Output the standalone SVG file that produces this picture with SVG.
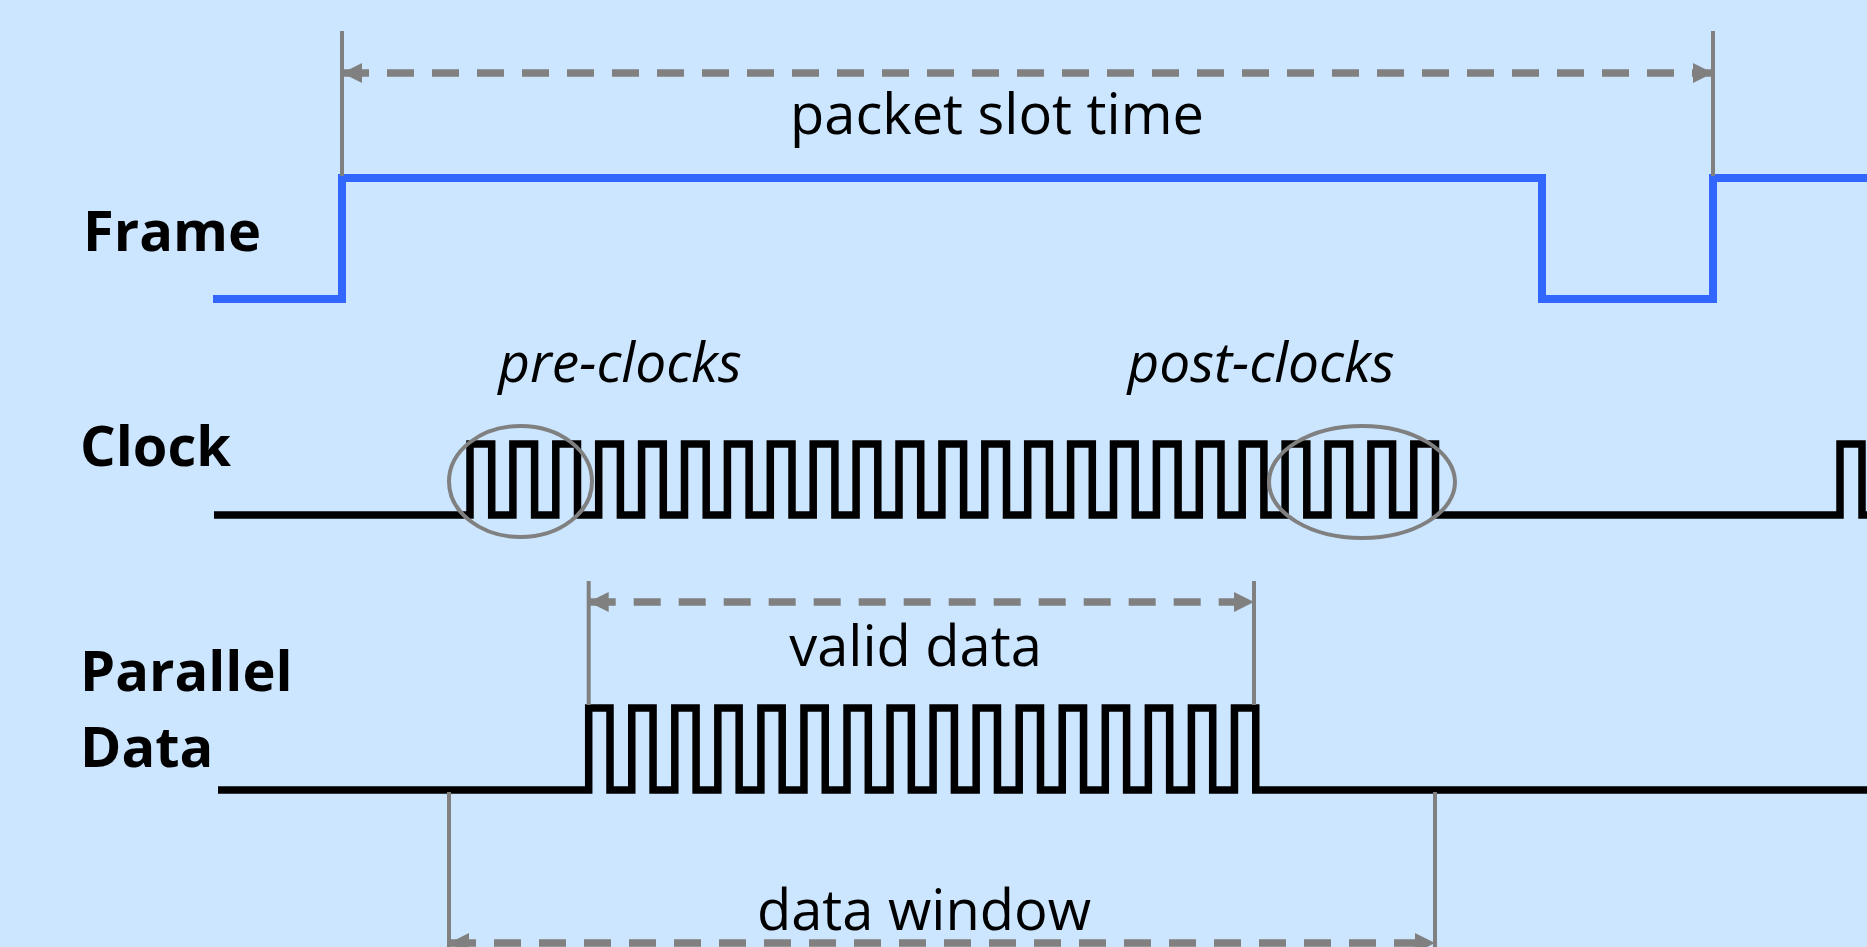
<svg xmlns="http://www.w3.org/2000/svg" width="1867" height="947" viewBox="0 0 1867 947">
  <style>
    .lbl { font-family: "Open Sans", "Liberation Sans", sans-serif; font-weight: bold; font-size: 56px; fill: #000; }
    .dim { font-family: "Open Sans", "Liberation Sans", sans-serif; font-size: 56px; fill: #000; text-anchor: middle; }
    .ital { font-family: "Open Sans", "Liberation Sans", sans-serif; font-style: italic; font-size: 55px; fill: #000; text-anchor: middle; }
    .sig { fill: none; stroke: #000; stroke-width: 7.5; stroke-linejoin: miter; }
    .frame { fill: none; stroke: #3366ff; stroke-width: 8; stroke-linejoin: miter; }
    .ext { stroke: #808080; stroke-width: 4; fill: none; }
    .arr { stroke: #808080; stroke-width: 7.5; stroke-dasharray: 27 18; fill: none; marker-start: url(#ah); marker-end: url(#ah); }
    .ring { fill: none; stroke: #808080; stroke-width: 4; }
  </style>
  <defs>
    <marker id="ah" viewBox="0 0 20 20" refX="20" refY="10" markerWidth="20" markerHeight="20" markerUnits="userSpaceOnUse" orient="auto-start-reverse">
      <path d="M0,0 L20,10 L0,20 z" fill="#808080"/>
    </marker>
  </defs>
  <rect x="0" y="0" width="1867" height="947" fill="#cce6ff"/>

  <g id="frame-label"><text class="lbl" x="83" y="251">Frame</text></g>
  <g id="clock-label"><text class="lbl" x="80" y="466">Clock</text></g>
  <g id="data-label"><text class="lbl" x="80" y="691">Parallel</text><text class="lbl" x="80" y="767">Data</text></g>

  <g id="frame-signal">
    <path class="frame" d="M213,299 H342 V178 H1542 V299 H1713 V178 H1867"/>
  </g>

  <g id="clock-signal">
    <path class="sig" d="M214,515 H470 v-71h21.7v71h21.2 v-71h21.7v71h21.2 v-71h21.7v71h21.2 v-71h21.7v71h21.2 v-71h21.7v71h21.2 v-71h21.7v71h21.2 v-71h21.7v71h21.2 v-71h21.7v71h21.2 v-71h21.7v71h21.2 v-71h21.7v71h21.2 v-71h21.7v71h21.2 v-71h21.7v71h21.2 v-71h21.7v71h21.2 v-71h21.7v71h21.2 v-71h21.7v71h21.2 v-71h21.7v71h21.2 v-71h21.7v71h21.2 v-71h21.7v71h21.2 v-71h21.7v71h21.2 v-71h21.7v71h21.2 v-71h21.7v71h21.2 v-71h21.7v71h21.2 v-71h21.7v71 H1840 v-71 h22 v71 H1867"/>
  </g>

  <g id="data-signal">
    <path class="sig" d="M218,790 H588.7 v-82h21.3v82h21.75 v-82h21.3v82h21.75 v-82h21.3v82h21.75 v-82h21.3v82h21.75 v-82h21.3v82h21.75 v-82h21.3v82h21.75 v-82h21.3v82h21.75 v-82h21.3v82h21.75 v-82h21.3v82h21.75 v-82h21.3v82h21.75 v-82h21.3v82h21.75 v-82h21.3v82h21.75 v-82h21.3v82h21.75 v-82h21.3v82h21.75 v-82h21.3v82h21.75 v-82h21.3v82 H1867"/>
  </g>

  <g id="pre-clocks">
    <ellipse class="ring" cx="520.5" cy="481.5" rx="71.5" ry="55.5"/>
    <text class="ital" x="620" y="382">pre-clocks</text>
  </g>
  <g id="post-clocks">
    <ellipse class="ring" cx="1362" cy="482" rx="93" ry="56"/>
    <text class="ital" x="1261" y="382">post-clocks</text>
  </g>

  <g id="connectors">
    <line class="ext" x1="342" y1="31" x2="342" y2="176"/>
    <line class="ext" x1="1713" y1="31" x2="1713" y2="176"/>
    <line class="arr" x1="342" y1="73" x2="1713" y2="73"/>
    <line class="ext" x1="588.7" y1="581" x2="588.7" y2="705"/>
    <line class="ext" x1="1254" y1="581" x2="1254" y2="705"/>
    <line class="arr" x1="588.7" y1="602" x2="1254" y2="602"/>
    <line class="ext" x1="449" y1="792" x2="449" y2="947"/>
    <line class="ext" x1="1435" y1="792" x2="1435" y2="947"/>
    <line class="arr" x1="449" y1="943" x2="1435" y2="943"/>
  </g>

  <g id="dim-labels">
    <text class="dim" x="997" y="134">packet slot time</text>
    <text class="dim" x="915.5" y="666">valid data</text>
    <text class="dim" x="924" y="930">data window</text>
  </g>
</svg>
